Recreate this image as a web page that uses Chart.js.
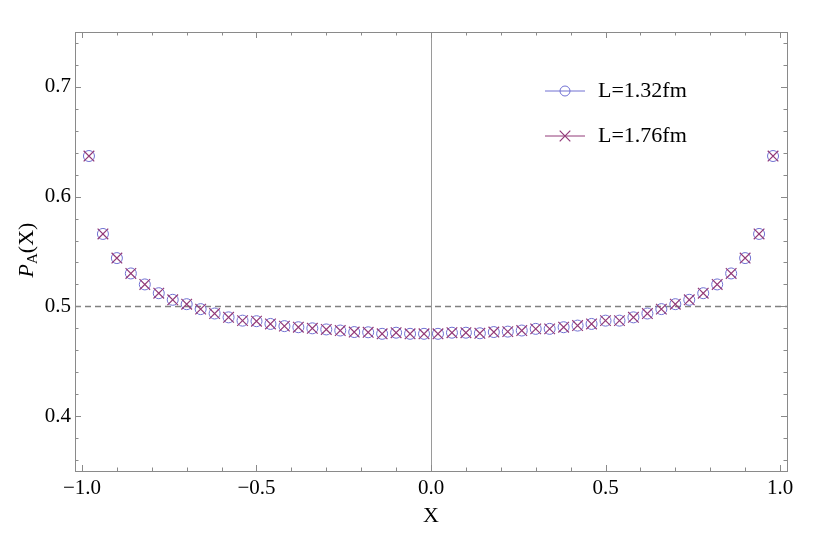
<!DOCTYPE html>
<html>
<head>
<meta charset="utf-8">
<script src="https://cdn.jsdelivr.net/npm/chart.js@4.4.0/dist/chart.umd.min.js"></script>
<style>
    body { margin: 0; background: #fff; }
    #wrap { width: 817px; height: 541px; }
</style>
</head>
<body>
<div id="wrap"><canvas id="myChart" width="817" height="541"></canvas></div>
<script>
// data
const xValues = [-0.98, -0.94, -0.90, -0.86, -0.82, -0.78, -0.74, -0.70, -0.66, -0.62,
                 -0.58, -0.54, -0.50, -0.46, -0.42, -0.38, -0.34, -0.30, -0.26, -0.22,
                 -0.18, -0.14, -0.10, -0.06, -0.02, 0.02, 0.06, 0.10, 0.14, 0.18,
                 0.22, 0.26, 0.30, 0.34, 0.38, 0.42, 0.46, 0.50, 0.54, 0.58,
                 0.62, 0.66, 0.70, 0.74, 0.78, 0.82, 0.86, 0.90, 0.94, 0.98];
const pL132 = [0.637, 0.566, 0.544, 0.530, 0.520, 0.512, 0.506, 0.502, 0.4975, 0.4935,
               0.490, 0.487, 0.4865, 0.484, 0.482, 0.481, 0.480, 0.479, 0.478, 0.4766,
               0.4764, 0.475, 0.476, 0.475, 0.475, 0.475, 0.476, 0.476, 0.4755, 0.4766,
               0.477, 0.478, 0.4795, 0.4795, 0.481, 0.4825, 0.484, 0.487, 0.487, 0.490,
               0.4935, 0.4975, 0.502, 0.506, 0.512, 0.520, 0.530, 0.544, 0.566, 0.637];
const pL176 = [0.637, 0.566, 0.544, 0.530, 0.520, 0.512, 0.506, 0.502, 0.4975, 0.4935,
               0.490, 0.487, 0.4865, 0.484, 0.482, 0.481, 0.480, 0.479, 0.478, 0.4766,
               0.4764, 0.475, 0.476, 0.475, 0.475, 0.475, 0.476, 0.476, 0.4755, 0.4766,
               0.477, 0.478, 0.4795, 0.4795, 0.481, 0.4825, 0.484, 0.487, 0.487, 0.490,
               0.4935, 0.4975, 0.502, 0.506, 0.512, 0.520, 0.530, 0.544, 0.566, 0.637];
const seriesLabels = ["L=1.32fm", "L=1.76fm"];
const xTicks = [-1.0, -0.5, 0.0, 0.5, 1.0];
const yTicks = [0.4, 0.5, 0.6, 0.7];
const xMinorTicks = [-1.0, -0.9, -0.8, -0.7, -0.6, -0.5, -0.4, -0.3, -0.2, -0.1, 0.0,
                     0.1, 0.2, 0.3, 0.4, 0.5, 0.6, 0.7, 0.8, 0.9, 1.0];
const yMinorTicks = [0.36, 0.38, 0.40, 0.42, 0.44, 0.46, 0.48, 0.50, 0.52, 0.54, 0.56,
                     0.58, 0.60, 0.62, 0.64, 0.66, 0.68, 0.70, 0.72, 0.74];
const refLine = 0.5;

const serif = "'Liberation Serif', 'Times New Roman', serif";
const frameColor = "#8a8a8a";
const colors = ["#7070d2", "#923a78"];

function fmt(v) {
    return (v < 0 ? "\u2212" : "") + Math.abs(v).toFixed(1);
}

function drawMarker(ctx, style, x, y, r, color, w) {
    ctx.save();
    ctx.strokeStyle = color;
    ctx.lineWidth = w;
    ctx.beginPath();
    if (style == "circle") {
        ctx.arc(x, y, r, 0, Math.PI * 2);
    } else {
        const d = r * Math.SQRT1_2;
        ctx.moveTo(x - d, y - d); ctx.lineTo(x + d, y + d);
        ctx.moveTo(x + d, y - d); ctx.lineTo(x - d, y + d);
    }
    ctx.stroke();
    ctx.restore();
}

// frame, inner ticks, reference lines, legend and axis titles
const decorations = {
    id: "decorations",
    beforeDatasetsDraw(chart) {
        const ctx = chart.ctx;
        const a = chart.chartArea;
        const xs = chart.scales.x;
        const ys = chart.scales.y;
        ctx.save();
        // vertical line at x = 0
        ctx.strokeStyle = "#9a9a9a";
        ctx.lineWidth = 1;
        const x0 = Math.round(xs.getPixelForValue(0)) + 0.5;
        ctx.beginPath();
        ctx.moveTo(x0, a.top);
        ctx.lineTo(x0, a.bottom);
        ctx.stroke();
        // dashed line at 0.5
        const yr = ys.getPixelForValue(refLine);
        ctx.strokeStyle = "#808080";
        ctx.lineWidth = 1.5;
        ctx.setLineDash([6, 4]);
        ctx.beginPath();
        ctx.moveTo(a.left, yr);
        ctx.lineTo(a.right, yr);
        ctx.stroke();
        ctx.restore();
    },
    afterDraw(chart) {
        const ctx = chart.ctx;
        const a = chart.chartArea;
        const xs = chart.scales.x;
        const ys = chart.scales.y;
        ctx.save();
        ctx.strokeStyle = frameColor;
        ctx.lineWidth = 1;
        ctx.strokeRect(Math.round(a.left) + 0.5, Math.round(a.top) + 0.5,
            Math.round(a.right - a.left), Math.round(a.bottom - a.top));

        ctx.beginPath();
        xMinorTicks.forEach(function (v) {
            const len = xTicks.some(t => Math.abs(t - v) < 1e-6) ? 6 : 3.5;
            const px = Math.round(xs.getPixelForValue(v)) + 0.5;
            ctx.moveTo(px, a.bottom); ctx.lineTo(px, a.bottom - len);
            ctx.moveTo(px, a.top); ctx.lineTo(px, a.top + len);
        });
        yMinorTicks.forEach(function (v) {
            const len = yTicks.some(t => Math.abs(t - v) < 1e-6) ? 6 : 3.5;
            const py = Math.round(ys.getPixelForValue(v)) + 0.5;
            ctx.moveTo(a.left, py); ctx.lineTo(a.left + len, py);
            ctx.moveTo(a.right, py); ctx.lineTo(a.right - len, py);
        });
        ctx.stroke();

        // legend
        const styles = ["circle", "crossRot"];
        const radii = [5, 7.5];
        for (let i = 0; i < seriesLabels.length; i++) {
            const ly = 91 + i * 45;
            ctx.strokeStyle = colors[i];
            ctx.lineWidth = 1;
            ctx.beginPath();
            ctx.moveTo(545, ly);
            ctx.lineTo(585, ly);
            ctx.stroke();
            drawMarker(ctx, styles[i], 565, ly, radii[i], colors[i], i == 0 ? 1 : 1.2);
            ctx.fillStyle = "#000";
            ctx.font = "22px " + serif;
            ctx.textBaseline = "middle";
            ctx.textAlign = "left";
            ctx.fillText(seriesLabels[i], 598, ly);
        }

        // x title
        ctx.fillStyle = "#000";
        ctx.font = "22px " + serif;
        ctx.textAlign = "center";
        ctx.textBaseline = "middle";
        ctx.fillText("X", xs.getPixelForValue(0), 516);

        // y title P_A(X)
        ctx.translate(26, 250);
        ctx.rotate(-Math.PI / 2);
        const fBig = "22px " + serif;
        const fIt = "italic 22px " + serif;
        const fSub = "15px " + serif;
        ctx.font = fIt; const wP = ctx.measureText("P").width;
        ctx.font = fSub; const wA = ctx.measureText("A").width;
        ctx.font = fBig; const wX = ctx.measureText("(X)").width;
        let tx = -(wP + wA + wX) / 2;
        ctx.textAlign = "left";
        ctx.textBaseline = "alphabetic";
        ctx.font = fIt; ctx.fillText("P", tx, 7); tx += wP;
        ctx.font = fSub; ctx.fillText("A", tx, 11); tx += wA;
        ctx.font = fBig; ctx.fillText("(X)", tx, 7);
        ctx.restore();
    }
};

new Chart(document.getElementById("myChart"), {
    type: "scatter",
    data: {
        datasets: [
            {
                label: seriesLabels[0],
                data: xValues.map((x, i) => ({ x: x, y: pL132[i] })),
                pointStyle: "circle",
                pointRadius: 5.5,
                borderColor: colors[0],
                backgroundColor: "rgba(0,0,0,0)",
                borderWidth: 1,
                order: 2,
            },
            {
                label: seriesLabels[1],
                data: xValues.map((x, i) => ({ x: x, y: pL176[i] })),
                pointStyle: "crossRot",
                pointRadius: 7.5,
                borderColor: colors[1],
                backgroundColor: colors[1],
                borderWidth: 1.2,
                order: 1,
            },
        ],
    },
    plugins: [decorations],
    options: {
        responsive: false,
        animation: false,
        events: [],
        layout: { padding: { left: 0, right: 30, top: 32, bottom: 0 } },
        plugins: {
            legend: { display: false },
            tooltip: { enabled: false },
        },
        scales: {
            x: {
                type: "linear",
                min: -1.02,
                max: 1.02,
                grid: { display: false, drawTicks: false, tickLength: 0 },
                border: { display: false },
                afterBuildTicks: s => { s.ticks = xTicks.map(v => ({ value: v })); },
                afterFit: s => { s.height = 70; },
                ticks: {
                    color: "#000",
                    font: { family: serif, size: 21 },
                    padding: 5,
                    maxRotation: 0,
                    callback: v => fmt(v),
                },
            },
            y: {
                type: "linear",
                min: 0.35,
                max: 0.75,
                grid: { display: false, drawTicks: false, tickLength: 0 },
                border: { display: false },
                afterBuildTicks: s => { s.ticks = yTicks.map(v => ({ value: v })); },
                afterFit: s => { s.width = 75; },
                ticks: {
                    color: "#000",
                    font: { family: serif, size: 21 },
                    padding: 4,
                    callback: v => fmt(v),
                },
            },
        },
    },
});
</script>
</body>
</html>
